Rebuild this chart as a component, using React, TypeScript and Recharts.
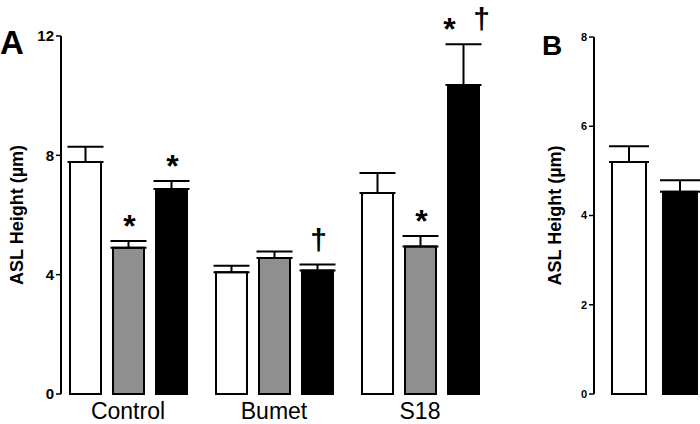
import React from 'react';
import { BarChart, Bar, XAxis, YAxis, ErrorBar, LabelList, Label } from 'recharts';

// Panel A: ASL height per treatment, three conditions each
const categories = ['Control', 'Bumet', 'S18'];
const whiteMean = [7.78, 4.08, 6.74];
const whiteSem = [0.51, 0.22, 0.67];
const grayMean = [4.9, 4.56, 4.94];
const graySem = [0.23, 0.22, 0.36];
const blackMean = [6.87, 4.14, 10.36];
const blackSem = [0.27, 0.2, 1.36];
const grayMarks = [['*'], [], ['*']];
const blackMarks = [['*'], ['†'], ['*', '†']];
const ticksA = [0, 4, 8, 12];

// Panel B
const bWhiteMean = [5.2];
const bWhiteSem = [0.35];
const bBlackMean = [4.53];
const bBlackSem = [0.26];
const ticksB = [0, 2, 4, 6, 8];

const FONT = '"Liberation Sans", Arial, Helvetica, sans-serif';
const GRAY = '#8f8f8f';

const dataA = categories.map((name, i) => ({
  name,
  white: whiteMean[i],
  whiteErr: [0, whiteSem[i]],
  gray: grayMean[i],
  grayErr: [0, graySem[i]],
  grayMark: grayMarks[i].join('|'),
  black: blackMean[i],
  blackErr: [0, blackSem[i]],
  blackMark: blackMarks[i].join('|'),
}));

const dataB = [
  {
    name: '',
    white: bWhiteMean[0],
    whiteErr: [0, bWhiteSem[0]],
    black: bBlackMean[0],
    blackErr: [0, bBlackSem[0]],
  },
];

// marks sit above the error bar; pixel scale taken from the bar itself
const markRenderer = (means: number[], sems: number[]) => (props: any) => {
  const { x, y, width, height, value, index } = props;
  if (!value) return null;
  const pxPerUnit = Number(height) / means[index];
  const errTop = Number(y) - sems[index] * pxPerUnit;
  const cx = Number(x) + Number(width) / 2;
  const marks = String(value).split('|');
  const offsets = marks.length > 1 ? [-14, 18] : [1];
  return (
    <g>
      {marks.map((m, k) =>
        m === '*' ? (
          <text key={k} x={cx + offsets[k]} y={errTop - 4} textAnchor="middle"
                fontFamily={FONT} fontWeight="bold" fontSize={32} fill="#000">*</text>
        ) : (
          <text key={k} x={cx + offsets[k]} y={errTop - 15} textAnchor="middle"
                fontFamily={FONT} fontWeight="bold" fontSize={30} fill="#000">†</text>
        ),
      )}
    </g>
  );
};

const yLabel = (dx: number) => (props: any) => {
  const vb = props.viewBox || {};
  const cx = vb.x + dx;
  const cy = vb.y + vb.height / 2;
  return (
    <text x={cx} y={cy} transform={`rotate(-90, ${cx}, ${cy})`} textAnchor="middle"
          dominantBaseline="central" fontFamily={FONT} fontWeight="bold" fontSize={18} fill="#000">
      ASL Height (µm)
    </text>
  );
};

const App = () => (
  <div style={{ position: 'absolute', left: 0, top: 0, width: 700, height: 424, background: '#fff' }}>
    <div style={{ position: 'absolute', left: 0, top: 0 }}>
      <BarChart width={500} height={424} data={dataA} barSize={31} barGap={12}
                margin={{ top: 36, right: 7, left: 0, bottom: 0 }}>
        <XAxis dataKey="name" axisLine={false} tickLine={false} height={30}
               padding={{ left: -6, right: 0 }} tickMargin={3}
               tick={{ fontFamily: FONT, fontSize: 23, fill: '#000' }} />
        <YAxis width={61} domain={[0, 12]} ticks={ticksA} interval={0}
               axisLine={{ stroke: '#000', strokeWidth: 2 }}
               tickLine={{ stroke: '#000', strokeWidth: 1.5 }} tickSize={5}
               tick={{ fontFamily: FONT, fontSize: 15, fontWeight: 'bold', fill: '#000' }}>
          <Label content={yLabel(17)} />
        </YAxis>
        <Bar dataKey="white" fill="#fff" stroke="#000" strokeWidth={2} isAnimationActive={false}>
          <ErrorBar dataKey="whiteErr" direction="y" width={18} stroke="#000" strokeWidth={2} />
        </Bar>
        <Bar dataKey="gray" fill={GRAY} stroke="#000" strokeWidth={2} isAnimationActive={false}>
          <ErrorBar dataKey="grayErr" direction="y" width={18} stroke="#000" strokeWidth={2} />
          <LabelList dataKey="grayMark" content={markRenderer(grayMean, graySem)} />
        </Bar>
        <Bar dataKey="black" fill="#000" stroke="#000" strokeWidth={2} isAnimationActive={false}>
          <ErrorBar dataKey="blackErr" direction="y" width={18} stroke="#000" strokeWidth={2} />
          <LabelList dataKey="blackMark" content={markRenderer(blackMean, blackSem)} />
        </Bar>
      </BarChart>
    </div>
    <div style={{ position: 'absolute', left: 500, top: 0 }}>
      <BarChart width={200} height={424} data={dataB} barSize={34} barGap={17}
                margin={{ top: 37, right: 0, left: 0, bottom: 0 }}>
        <XAxis dataKey="name" axisLine={false} tickLine={false} tick={false} height={30}
               padding={{ left: 15, right: 0 }} />
        <YAxis width={94} domain={[0, 8]} ticks={ticksB} interval={0}
               axisLine={{ stroke: '#000', strokeWidth: 2 }}
               tickLine={{ stroke: '#000', strokeWidth: 1.5 }} tickSize={5}
               tick={{ fontFamily: FONT, fontSize: 11, fontWeight: 'bold', fill: '#000' }}>
          <Label content={yLabel(55)} />
        </YAxis>
        <Bar dataKey="white" fill="#fff" stroke="#000" strokeWidth={2} isAnimationActive={false}>
          <ErrorBar dataKey="whiteErr" direction="y" width={20} stroke="#000" strokeWidth={2} />
        </Bar>
        <Bar dataKey="black" fill="#000" stroke="#000" strokeWidth={2} isAnimationActive={false}>
          <ErrorBar dataKey="blackErr" direction="y" width={20} stroke="#000" strokeWidth={2} />
        </Bar>
      </BarChart>
    </div>
    <svg width={700} height={424} style={{ position: 'absolute', left: 0, top: 0, pointerEvents: 'none' }}>
      <text x={0} y={54} fontFamily={FONT} fontWeight="bold" fontSize={33} fill="#000">A</text>
      <text x={542} y={55} fontFamily={FONT} fontWeight="bold" fontSize={28} fill="#000">B</text>
    </svg>
  </div>
);

export default App;
